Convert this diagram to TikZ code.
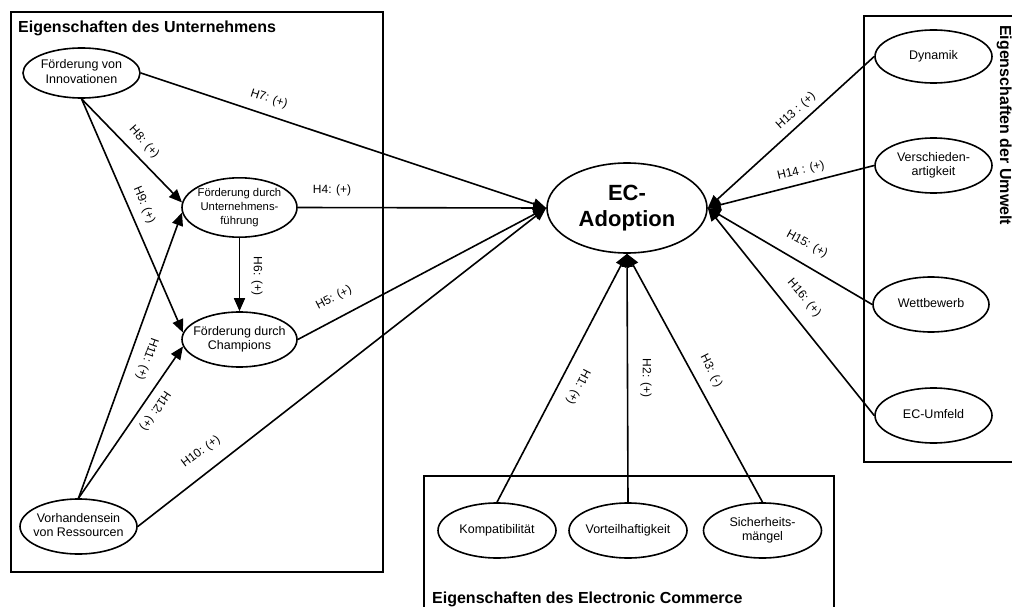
\documentclass[tikz,border=0pt]{standalone}
\usepackage{fontspec}
\setmainfont{Liberation Sans}
\usetikzlibrary{shapes.geometric,arrows.meta}
\newcommand{\ctxt}[1]{\makebox[0pt]{\begin{tabular}{@{}c@{}}#1\end{tabular}}}
\begin{document}
\begin{tikzpicture}[x=1pt,y=-1pt,
  ell/.style={draw,ellipse,line width=1.6pt,inner sep=0pt,minimum width=117pt,minimum height=55pt,font=\fontsize{12.5}{14.3}\selectfont},
  lab/.style={font=\fontsize{12}{14}\selectfont,inner sep=0pt},
  arr/.style={line width=1.6pt,-{Triangle[length=13pt,width=11pt]}},
  box/.style={line width=1.6pt},
  ttl/.style={font=\bfseries\fontsize{16}{19}\selectfont,inner sep=0pt}]
\useasboundingbox (0,0) rectangle (1012,607);
% boxes
\draw[box] (11,12) rectangle (383,572);
\draw[box] (1014,16) -- (864,16) -- (864,462) -- (1014,462);
\draw[box] (424,609) -- (424,476) -- (834,476) -- (834,609);
% titles
\node[ttl,anchor=base west] (t1) at (18,33) {Eigenschaften des Unternehmens};
\node[ttl,anchor=base west] (t3) at (432,603) {Eigenschaften des Electronic Commerce};
\node[ttl,rotate=-90,anchor=base west] (t2) at (1000,25) {Eigenschaften der Umwelt};
% central node
\node[ell,minimum width=160pt,minimum height=90pt,font=\bfseries\fontsize{22}{26.5}\selectfont] (ec) at (627,208) {\ctxt{EC-\\Adoption}};
% left group
\node[ell,minimum height=50pt] (inno) at (81.5,73) {\ctxt{Förderung von\\Innovationen}};
\node[ell,minimum width=115pt,font=\fontsize{11.3}{14}\selectfont] (uf) at (239.5,207.5) {\ctxt{Förderung durch\\Unternehmens-\\führung}};
\node[ell,minimum width=115pt] (ch) at (239.5,339.5) {\ctxt{Förderung durch\\Champions}};
\node[ell] (res) at (78.5,526.5) {\ctxt{Vorhandensein\\von Ressourcen}};
% right group
\node[ell,minimum height=53pt] (dyn) at (933.5,56.5) {\ctxt{Dynamik}};
\node[ell] (ver) at (933.5,165.5) {\ctxt{Verschieden-\\artigkeit}};
\node[ell,minimum width=116pt] (wett) at (931,304.5) {\ctxt{Wettbewerb}};
\node[ell] (ecu) at (933.5,415.5) {\ctxt{EC-Umfeld}};
% bottom group
\node[ell,minimum width=118pt] (komp) at (497,530.5) {\ctxt{Kompatibilität}};
\node[ell,minimum width=118pt] (vort) at (628,530.5) {\ctxt{Vorteilhaftigkeit}};
\node[ell,minimum width=118pt] (sich) at (762.5,530.5) {\ctxt{Sicherheits-\\mängel}};
% connectors
\draw[arr] (inno.east) -- (ec.west);
\draw[arr] (uf.east) -- (ec.west);
\draw[arr] (ch.east) -- (ec.west);
\draw[arr] (res.east) -- (ec.west);
\draw[arr] (inno.south) -- (uf.175);
\draw[arr] (inno.south) -- (ch.173);
\draw[arr] (uf.south) -- (ch.north);
\draw[arr] (res.north) -- (uf.185);
\draw[arr] (res.north) -- (ch.187);
\draw[arr] (dyn.west) -- (ec.east);
\draw[arr] (ver.west) -- (ec.east);
\draw[arr] (wett.west) -- (ec.east);
\draw[arr] (ecu.west) -- (ec.east);
\draw[arr] (komp.north) -- (ec.south);
\draw[arr] (vort.north) -- (ec.south);
\draw[arr] (sich.north) -- (ec.south);
% labels
\node[lab,rotate=-18] (l7) at (269,99) {H7: (+)};
\node[lab] (l4) at (332,190) {H4: (+)};
\node[lab,rotate=27] (l5) at (334,298) {H5: (+)};
\node[lab,rotate=-48] (l8) at (144,142) {H8: (+)};
\node[lab,rotate=-67] (l9) at (144,205) {H9: (+)};
\node[lab,rotate=-90] (l6) at (257,276) {H6: (+)};
\node[lab,rotate=-110] (l11) at (147,359) {H11: (+)};
\node[lab,rotate=-124] (l12) at (155,411) {H12: (+)};
\node[lab,rotate=37] (l10) at (201,452) {H10: (+)};
\node[lab,rotate=-117.5] (l1) at (578,387) {H1: (+)};
\node[lab,rotate=-90] (l2) at (646,378) {H2: (+)};
\node[lab,rotate=-63] (l3) at (711,371) {H3: (-)};
\node[lab,rotate=42] (l13) at (796,111) {H13 : (+)};
\node[lab,rotate=13.4] (l14) at (801,171) {H14 : (+)};
\node[lab,rotate=-28.5] (l15) at (807,244) {H15: (+)};
\node[lab,rotate=-49.7] (l16) at (804,298) {H16: (+)};
\end{tikzpicture}
\end{document}
